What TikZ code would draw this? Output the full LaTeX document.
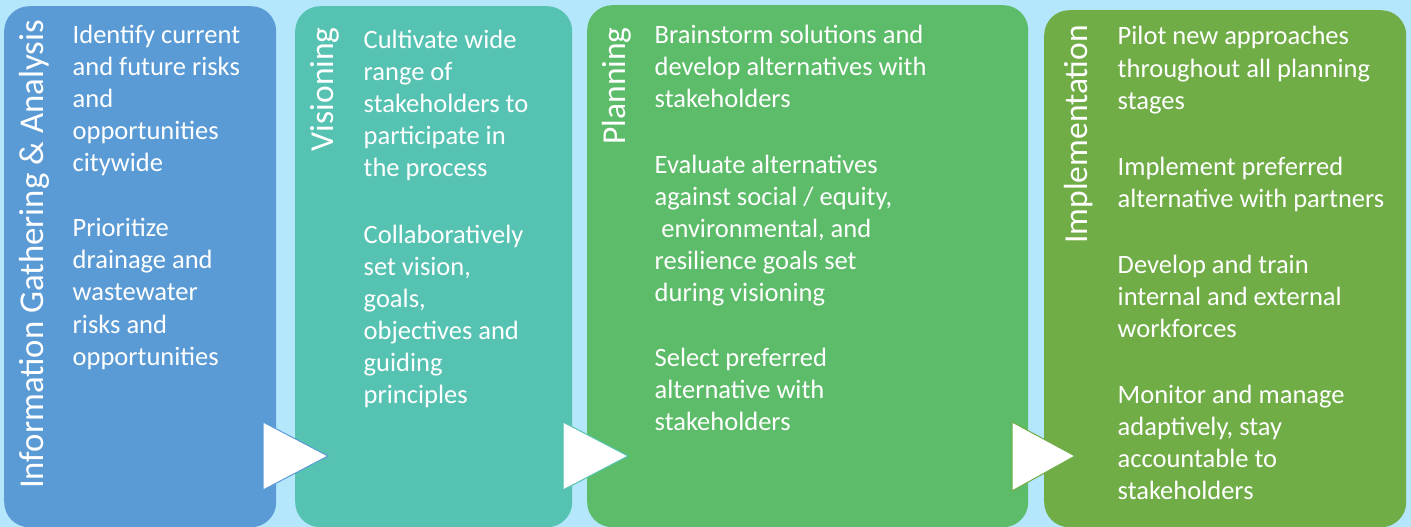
\documentclass[tikz,border=0pt]{standalone}
\usepackage{fontspec}
\setmainfont{Carlito}
\definecolor{bg}{RGB}{180,230,252}
\definecolor{c1}{RGB}{91,155,213}
\definecolor{c2}{RGB}{86,194,178}
\definecolor{c3}{RGB}{93,188,105}
\definecolor{c4}{RGB}{112,173,71}
\begin{document}
\begin{tikzpicture}[x=1pt,y=1pt,
  panel/.style={rounded corners=25pt, anchor=north west, inner sep=0pt, draw=none},
  body/.style={anchor=base west, inner sep=0pt, text=white, font=\fontsize{26.5}{32.1}\selectfont},
  lbl/.style={anchor=base east, rotate=90, inner sep=0pt, text=white, font=\fontsize{33.5}{40}\selectfont},
  tri/.style={fill=white, line width=1pt, line join=miter}]
\fill[bg] (0,0) rectangle (1411,-527);
\useasboundingbox (0,0) rectangle (1411,-527);
% panels
\node[panel, fill=c1, minimum width=272pt, minimum height=521pt] (p1) at (4,-6) {};
\node[panel, fill=c2, minimum width=277pt, minimum height=521pt] (p2) at (295,-6) {};
\node[panel, fill=c3, minimum width=441pt, minimum height=522pt] (p3) at (587,-5) {};
\node[panel, fill=c4, minimum width=362pt, minimum height=517pt] (p4) at (1044,-10) {};
% arrows
\draw[tri, draw=c1] (263,-422) -- (263,-490) -- (328,-456) -- cycle;
\draw[tri, draw=c2] (563,-422) -- (563,-490) -- (628,-456) -- cycle;
\draw[tri, draw=c4] (1012,-422) -- (1012,-491) -- (1075,-456) -- cycle;
% labels
\node[lbl, font=\fontsize{34.8}{40}\selectfont] (l1) at (43.8,-20) {Information Gathering \& Analysis};
\node[lbl] (l2) at (333,-27) {Visioning};
\node[lbl] (l3) at (625,-27) {Planning};
\node[lbl] (l4) at (1087,-25) {Implementation};
% panel 1
\node[body] (t11) at (72.5,-43.3) {\parbox[t]{200pt}{Identify current\\and future risks\\and\\opportunities\\citywide}};
\node[body] (t12) at (72.5,-236.7) {\parbox[t]{200pt}{Prioritize\\drainage and\\wastewater\\risks and\\opportunities}};
% panel 2
\node[body] (t21) at (363.5,-48.3) {\parbox[t]{200pt}{Cultivate wide\\range of\\stakeholders to\\participate in\\the process}};
\node[body] (t22) at (363.5,-243.3) {\parbox[t]{200pt}{Collaboratively\\set vision,\\goals,\\objectives and\\guiding\\principles}};
% panel 3
\node[body] (t31) at (654.5,-43.3) {\parbox[t]{360pt}{Brainstorm solutions and\\develop alternatives with\\stakeholders}};
\node[body] (t32) at (654.5,-173.3) {\parbox[t]{360pt}{Evaluate alternatives\\against social / equity,\\\hspace*{0.25em}environmental, and\\resilience goals set\\during visioning}};
\node[body] (t33) at (654.5,-366.7) {\parbox[t]{360pt}{Select preferred\\alternative with\\stakeholders}};
% panel 4
\node[body] (t41) at (1117.5,-45) {\parbox[t]{290pt}{Pilot new approaches\\throughout all planning\\stages}};
\node[body] (t42) at (1117.5,-175) {\parbox[t]{290pt}{Implement preferred\\alternative with partners}};
\node[body] (t43) at (1117.5,-273.3) {\parbox[t]{290pt}{Develop and train\\internal and external\\workforces}};
\node[body] (t44) at (1117.5,-403.3) {\parbox[t]{290pt}{Monitor and manage\\adaptively, stay\\accountable to\\stakeholders}};
\end{tikzpicture}
\end{document}
